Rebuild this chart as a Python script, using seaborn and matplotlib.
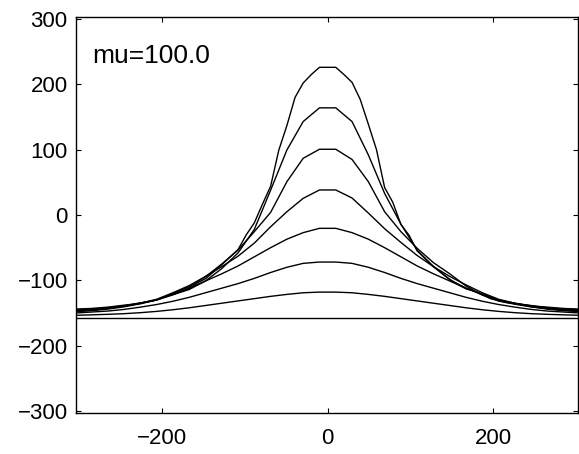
import numpy as np
import pandas as pd
import matplotlib
matplotlib.use("Agg")
import matplotlib.pyplot as plt
import seaborn as sns

# sample positions (32 evenly spaced points; top curve uses a finer grid)
x_vals = np.linspace(-305, 305, 32)
x_fine = np.linspace(-305, 305, 63)

flat = [-157, -157, -157, -157, -157, -157, -157, -157, -157, -157, -157,
        -157, -157, -157, -157, -157, -157, -157, -157, -157, -157, -157,
        -157, -157, -157, -157, -157, -157, -157, -157, -157, -157]

c1 = [-153.5, -152.8, -152, -151, -149.5, -147.5, -145, -142, -138.5, -135,
      -131.5, -128, -124.5, -121.5, -119, -118,
      -118, -119, -121.5, -124.5, -128, -131.5, -135, -138.5, -142, -145,
      -147.5, -149.5, -151, -152, -152.8, -153.5]

c2 = [-150, -148.5, -147, -144.5, -141, -137, -132, -126, -119, -112,
      -105, -97, -88, -80, -74, -72,
      -72, -74, -80, -88, -97, -105, -112, -119, -126, -132,
      -137, -141, -144.5, -147, -148.5, -150]

c3 = [-148, -146.5, -144, -140.5, -136, -130, -122, -112, -101, -90,
      -78, -64, -50, -37, -27, -20.4,
      -20.4, -27, -37, -50, -64, -78, -90, -101, -112, -122,
      -130, -136, -140.5, -144, -146.5, -148]

c4 = [-147, -145.5, -143, -139.5, -135, -129, -119, -108, -94, -79,
      -63, -43, -18, 5, 25.5, 38.3,
      38.3, 26, 3, -21, -42, -62, -79, -94, -107, -119,
      -129, -135, -139.5, -143, -145.5, -147]

c5 = [-146, -145, -142.5, -139.5, -135, -130, -120, -110, -94.5, -75,
      -53.6, -25.5, 4, 51, 86.8, 100.6,
      100.6, 85, 51, 5, -25.5, -51, -73, -90, -108.7, -122.5,
      -131.7, -136.5, -140.5, -143.5, -145.5, -146]

c6 = [-145, -144, -142, -139, -135, -130, -122, -114, -101, -82,
      -58, -22, 38, 99.5, 143, 164,
      164, 143, 92, 33, -14, -54, -79, -99, -112, -121,
      -130, -135, -139, -142, -144, -145]

# top curve, read on the finer grid
c7 = [-144, -143.5, -143, -142, -141, -139.5, -138, -136.5, -134.5, -132.5,
      -130, -125, -121, -117, -112.5, -104, -97.5, -87, -76, -64.5,
      -53, -30.5, -12, 16.6, 44, 99, 137, 180, 202, 215,
      226, 226, 226,
      215, 203, 177, 139, 100, 42, 19.5, -14.5, -31, -55,
      -67, -79, -89, -98.5, -106.5, -113, -116.5, -122, -128, -131,
      -134, -135.5, -137, -138.5, -140, -141, -142, -143, -143.5, -144]

series = {"flat": (x_vals, flat), "c1": (x_vals, c1), "c2": (x_vals, c2),
          "c3": (x_vals, c3), "c4": (x_vals, c4), "c5": (x_vals, c5),
          "c6": (x_vals, c6), "c7": (x_fine, c7)}

x_ticks = [-200, 0, 200]
y_ticks = [-300, -200, -100, 0, 100, 200, 300]
label_text = "mu=100.0"

rows = []
for name, (xs, vals) in series.items():
    for xv, yv in zip(xs, vals):
        rows.append({"x": xv, "y": yv, "curve": name})
df = pd.DataFrame(rows)

sns.set_style("ticks")
plt.rcParams["font.family"] = ["Liberation Sans", "DejaVu Sans"]

fig = plt.figure(figsize=(5.79, 4.54), dpi=100)
ax = fig.add_axes([76 / 579, 41 / 454, 502 / 579, 396 / 454])

sns.lineplot(data=df, x="x", y="y", hue="curve",
             palette=["black"] * len(series), estimator=None, sort=False,
             linewidth=1.0, legend=False, ax=ax)

ax.set_xlim(-304, 302.5)
ax.set_ylim(-303, 303)
ax.set_xticks(x_ticks)
ax.set_yticks(y_ticks)
ax.set_xlabel("")
ax.set_ylabel("")
for sp in ax.spines.values():
    sp.set_visible(True)
    sp.set_color("black")
    sp.set_linewidth(1.0)
ax.tick_params(direction="in", length=3.5, width=0.8, top=True, right=True,
               labelsize=16, colors="black")
ax.tick_params(axis="x", pad=11)
ax.tick_params(axis="y", pad=6)

ax.text(-284, 232, label_text, ha="left", va="baseline", fontsize=19,
        color="black")

fig.savefig("out.png", dpi=100)
